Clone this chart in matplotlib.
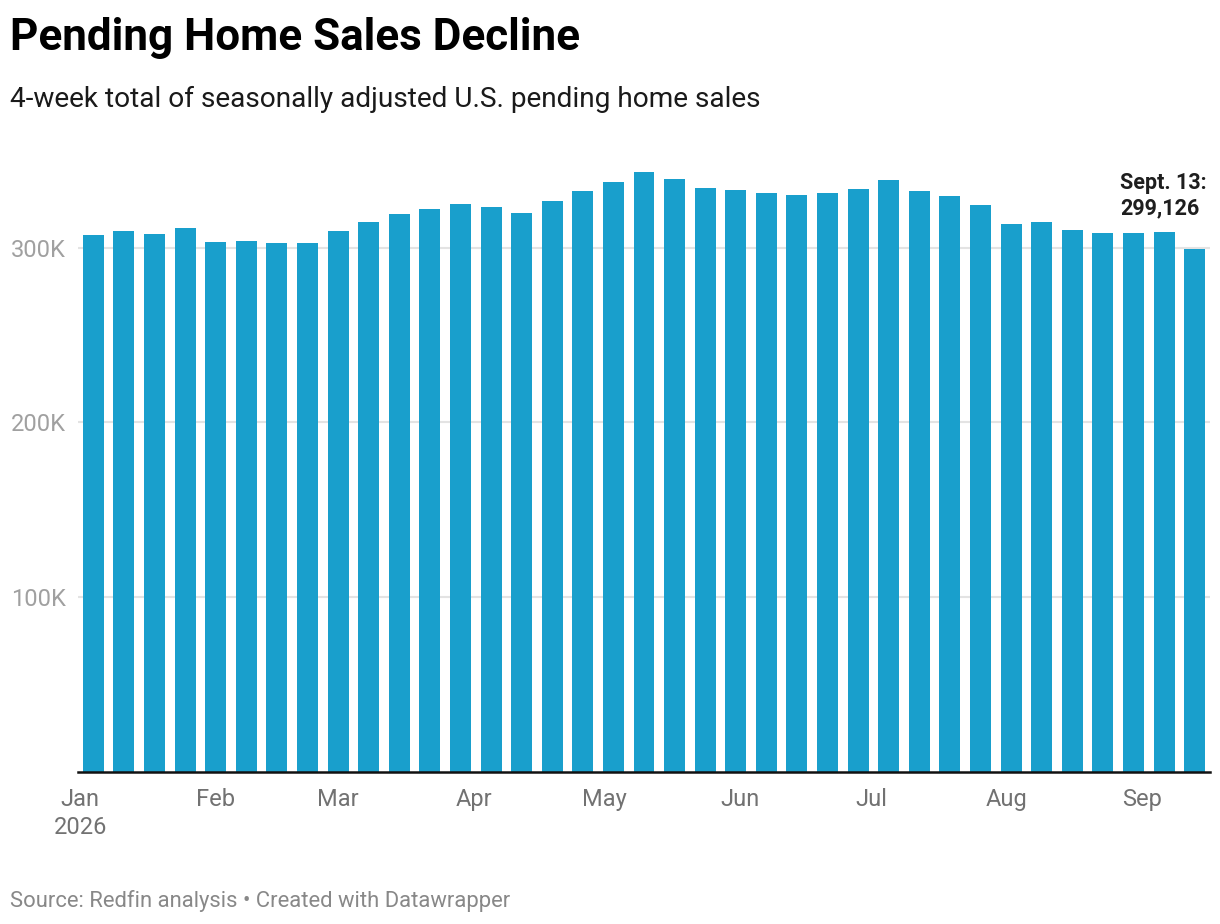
import matplotlib
matplotlib.use("Agg")
import matplotlib.pyplot as plt
import matplotlib.dates as mdates
import numpy as np
import pandas as pd

# ---- data ----
week_dates = pd.date_range("2026-01-04", periods=37, freq="7D")
pending_sales = [
    307300, 309600, 307800, 311300, 303300, 303800, 302700, 302700, 309600,
    314700, 319300, 322200, 325000, 323300, 319900, 326700, 332500, 337600,
    343400, 339300, 334200, 333000, 331300, 330200, 331300, 333600, 338700,
    332500, 329600, 324500, 313600, 314700, 310100, 308400, 308400, 309000,
    299126,
]
month_ticks = pd.date_range("2026-01-01", periods=9, freq="MS")
month_labels = ["Jan\n2026", "Feb", "Mar", "Apr", "May", "Jun", "Jul", "Aug", "Sep"]
y_ticks = [100000, 200000, 300000]
y_labels = ["100K", "200K", "300K"]

W, H = 1220, 924
plt.rcParams["font.family"] = ["Roboto", "DejaVu Sans"]
fig = plt.figure(figsize=(W / 100, H / 100), dpi=100)

def fx(px):
    return px / W

def fy(py):
    return 1 - py / H

ax_left, ax_right, ax_bottom, ax_top = 78, 1210, 771.5, 160.4
ax = fig.add_axes([fx(ax_left), fy(ax_bottom), fx(ax_right - ax_left), (ax_bottom - ax_top) / H])

x = mdates.date2num(week_dates)
ax.bar(x, pending_sales, width=4.8, color="#199fcc", zorder=2)
ax.set_xlim(x[0] - 3.5, x[-1] + 3.5)
ax.set_ylim(0, 350000)

ax.set_yticks(y_ticks)
ax.set_yticklabels(y_labels)
ax.yaxis.grid(True, color="#e3e3e3", linewidth=1.5, zorder=0)
ax.tick_params(axis="y", length=0, pad=8.5, labelsize=17, labelcolor="#a0a0a0")

ax.set_xticks(mdates.date2num(month_ticks))
ax.set_xticklabels(month_labels, linespacing=1.25)
ax.tick_params(axis="x", length=0, pad=12, labelsize=17, labelcolor="#727272")

for s in ["top", "right", "left"]:
    ax.spines[s].set_visible(False)
ax.spines["bottom"].set_color("#111111")
ax.spines["bottom"].set_linewidth(1.8)
ax.spines["bottom"].set_zorder(3)

# annotation (baseline of the last line)
ax.annotate("Sept. 13:\n299,126", xy=(fx(1120), fy(214)), xycoords="figure fraction",
            ha="left", va="baseline", fontsize=15.5, fontweight="bold",
            color="#1e1e1e", linespacing=1.2)

fig.text(fx(10), fy(50), "Pending Home Sales Decline", fontsize=31.7,
         fontweight="bold", color="#000000", ha="left", va="baseline")
fig.text(fx(10), fy(107), "4-week total of seasonally adjusted U.S. pending home sales",
         fontsize=20.2, color="#1a1a1a", ha="left", va="baseline")
fig.text(fx(10), fy(907), "Source: Redfin analysis \u2022 Created with Datawrapper",
         fontsize=15.8, color="#888888", ha="left", va="baseline")

fig.savefig("out.png", dpi=100, facecolor="white")
